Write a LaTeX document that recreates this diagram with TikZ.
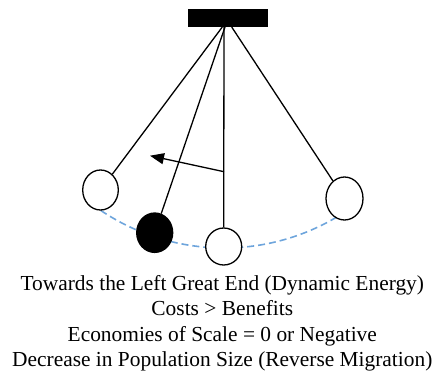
\documentclass[tikz,border=0pt]{standalone}
\usepackage{fontspec}
\setmainfont{Liberation Serif}
\usetikzlibrary{shapes.geometric,arrows.meta}
\definecolor{arcblue}{RGB}{110,165,220}
\tikzset{
  bob/.style={ellipse, draw=black, line width=1.3pt, fill=white, inner sep=0pt},
  stringline/.style={draw=black, line width=1.3pt},
  label/.style={anchor=base, inner sep=0pt, font=\fontsize{21.4}{25}\selectfont}
}
\begin{document}
\begin{tikzpicture}[x=1pt,y=-1pt]
\useasboundingbox (0,0) rectangle (439,372);
% swing path
\draw[arcblue, line width=1.6pt, dash pattern=on 7pt off 4pt] (224,27) ++(123.9:221) arc[start angle=123.9, end angle=59.2, radius=221];
% support bar
\node[fill=black, minimum width=80pt, minimum height=17.5pt, inner sep=0pt] (bar) at (228,17.75) {};
\coordinate (pl) at (222.3,27);
\coordinate (pb) at (225,27);
\coordinate (pm) at (224,27);
\coordinate (pr) at (231.7,27);
% bobs
\node[bob, minimum width=35.6pt, minimum height=40pt] (lb) at (100.5,190) {};
\node[bob, minimum width=37pt, minimum height=43pt] (rb) at (344.5,198.5) {};
\node[bob, minimum width=36pt, minimum height=37pt] (mb) at (223.7,246.5) {};
\node[bob, fill=black, minimum width=36pt, minimum height=39.4pt] (fb) at (154.7,232.7) {};
% strings
\draw[stringline] (pl) -- (lb);
\draw[stringline] (pr) -- (rb);
\draw[stringline] (pb) -- (fb);
\draw[stringline] (pm) -- (mb.north);
% arrow
\coordinate (as) at (224,171.7);
\coordinate (ae) at (150,155.7);
\draw[line width=1.3pt, -{Triangle[length=14pt,width=11pt]}] (as) -- (ae);
% text
\node[label] (t1) at (222.3,290) {Towards the Left Great End (Dynamic Energy)};
\node[label] (t2) at (222.3,315.5) {Costs > Benefits};
\node[label] (t3) at (222.3,341) {Economies of Scale = 0 or Negative};
\node[label] (t4) at (222.3,366) {Decrease in Population Size (Reverse Migration)};
\end{tikzpicture}
\end{document}
